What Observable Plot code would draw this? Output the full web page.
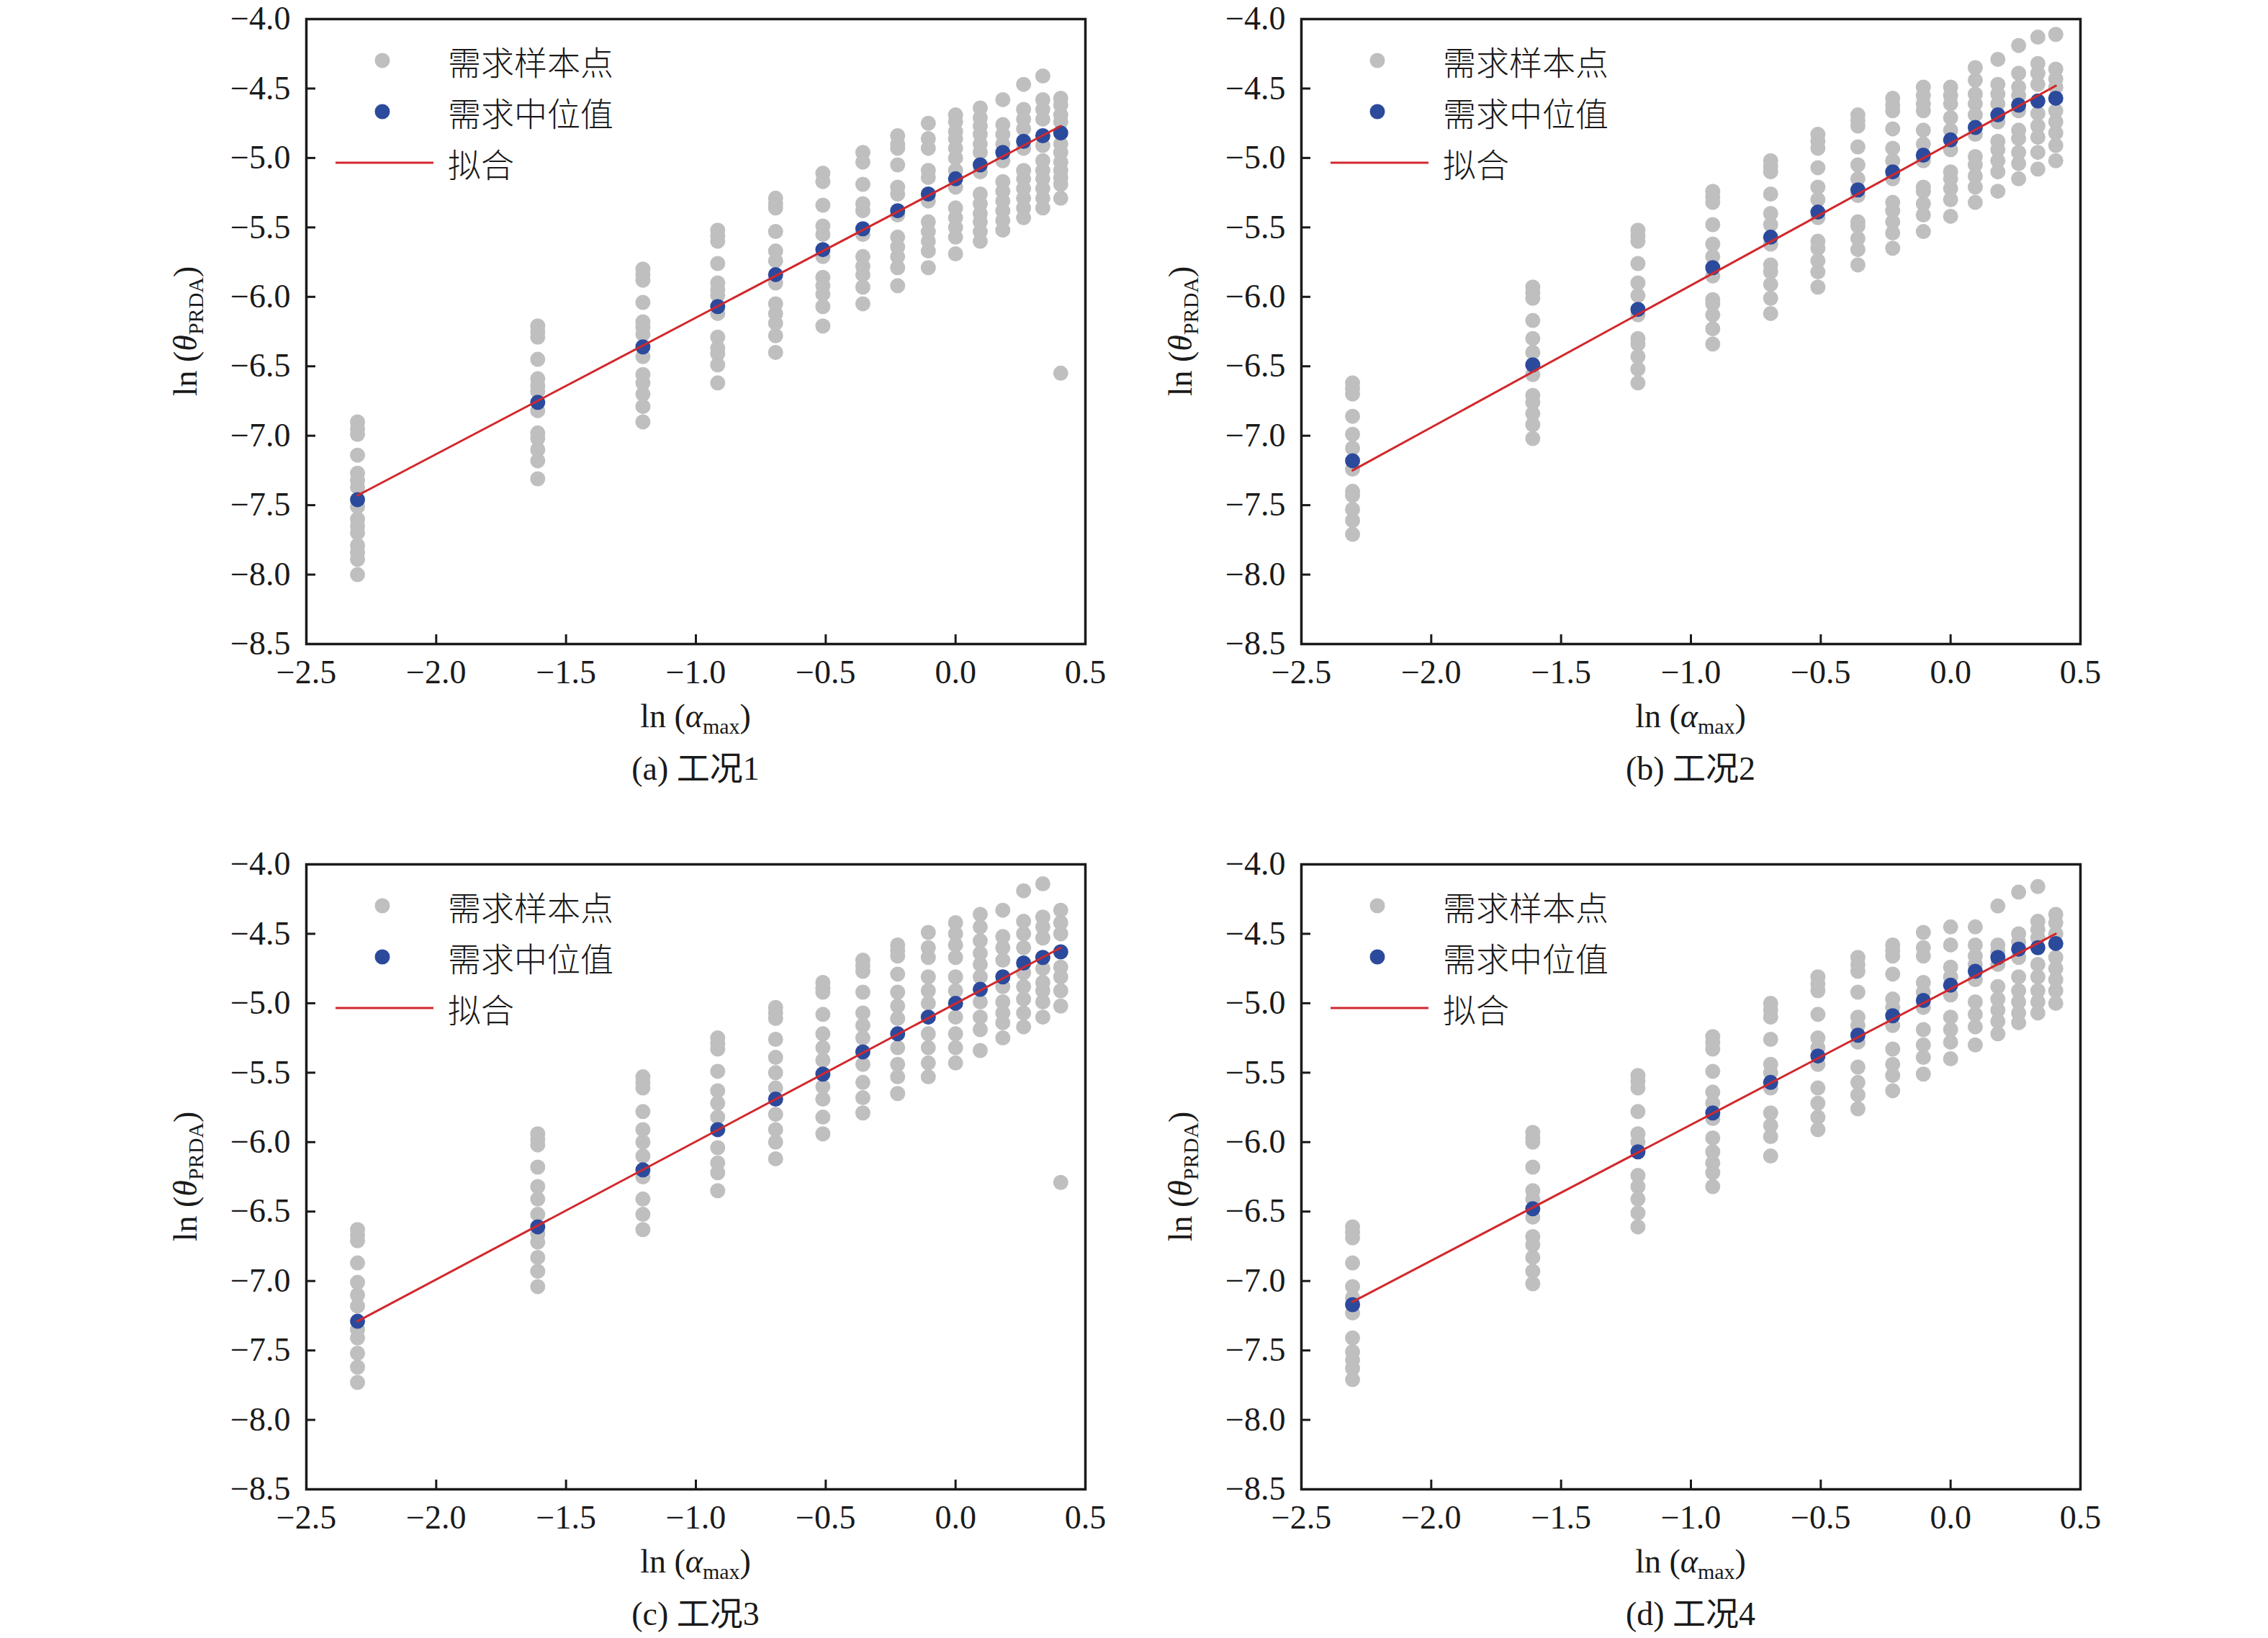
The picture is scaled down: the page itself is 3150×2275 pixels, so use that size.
<!DOCTYPE html>
<html>
<head>
<meta charset="utf-8">
<script src="https://cdn.jsdelivr.net/npm/d3@7"></script>
<script src="https://cdn.jsdelivr.net/npm/@observablehq/plot@0.6"></script>
<style>
  body { margin: 0; background: #fff; overflow: hidden; }
  #chart { position: relative; width: 3150px; height: 2275px; background: #fff; }
  .panel { position: absolute; }
</style>
</head>
<body>
<div id="chart"></div>
<script>
// ln(alpha_max) for alpha_max = 0.1 ... 1.5
const xLn = [-2.303, -1.609, -1.204, -0.916, -0.693, -0.511, -0.357, -0.223, -0.105, 0, 0.095, 0.182, 0.262, 0.336, 0.405]
const xTicks = [-2.5, -2.0, -1.5, -1.0, -0.5, 0.0, 0.5]
const yTicks = [-8.5, -8.0, -7.5, -7.0, -6.5, -6.0, -5.5, -5.0, -4.5, -4.0]
const fitX = [-2.303, 0.405]
const captions = ['(a) 工况1', '(b) 工况2', '(c) 工况3', '(d) 工况4']
const legendLabels = ['需求样本点', '需求中位值', '拟合']

// 需求样本点, one list per column of xLn
const samplesA = [
  [-6.90, -6.95, -6.99, -7.14, -7.27, -7.32, -7.37, -7.51, -7.60, -7.65, -7.70, -7.79, -7.84, -7.89, -8.00],
  [-6.21, -6.25, -6.29, -6.45, -6.59, -6.64, -6.68, -6.82, -6.98, -7.02, -7.10, -7.18, -7.31],
  [-5.80, -5.84, -5.88, -6.04, -6.18, -6.22, -6.27, -6.43, -6.56, -6.62, -6.70, -6.79, -6.90],
  [-5.52, -5.56, -5.60, -5.76, -5.90, -5.95, -5.99, -6.12, -6.29, -6.37, -6.41, -6.49, -6.62],
  [-5.29, -5.33, -5.36, -5.53, -5.67, -5.74, -5.90, -6.05, -6.12, -6.19, -6.28, -6.40],
  [-5.11, -5.17, -5.34, -5.49, -5.55, -5.71, -5.86, -5.92, -5.98, -6.07, -6.21],
  [-4.96, -5.03, -5.19, -5.33, -5.38, -5.55, -5.71, -5.78, -5.84, -5.93, -6.05],
  [-4.84, -4.90, -4.93, -5.05, -5.21, -5.26, -5.41, -5.57, -5.64, -5.71, -5.79, -5.92],
  [-4.75, -4.86, -4.93, -5.09, -5.14, -5.31, -5.46, -5.53, -5.60, -5.67, -5.79],
  [-4.69, -4.74, -4.81, -4.86, -4.93, -5.00, -5.09, -5.21, -5.36, -5.43, -5.50, -5.57, -5.69],
  [-4.64, -4.71, -4.77, -4.83, -4.90, -4.96, -5.10, -5.26, -5.33, -5.40, -5.46, -5.53, -5.60],
  [-4.58, -4.76, -4.83, -4.90, -5.02, -5.17, -5.24, -5.31, -5.38, -5.45, -5.52],
  [-4.47, -4.65, -4.72, -4.79, -4.93, -5.09, -5.15, -5.22, -5.29, -5.36, -5.43],
  [-4.41, -4.58, -4.65, -4.72, -4.91, -5.02, -5.09, -5.15, -5.22, -5.29, -5.36],
  [-4.57, -4.62, -4.69, -4.74, -4.90, -4.96, -5.03, -5.09, -5.14, -5.19, -5.29, -6.55]
]
const samplesB = [
  [-6.62, -6.66, -6.70, -6.86, -6.99, -7.09, -7.24, -7.40, -7.43, -7.53, -7.61, -7.71],
  [-5.93, -5.97, -6.01, -6.17, -6.30, -6.40, -6.56, -6.71, -6.76, -6.84, -6.92, -7.02],
  [-5.52, -5.56, -5.60, -5.76, -5.90, -5.99, -6.13, -6.30, -6.34, -6.43, -6.52, -6.62],
  [-5.24, -5.28, -5.32, -5.48, -5.62, -5.71, -5.85, -6.02, -6.05, -6.13, -6.23, -6.34],
  [-5.02, -5.06, -5.10, -5.26, -5.40, -5.48, -5.62, -5.77, -5.82, -5.91, -6.01, -6.12],
  [-4.83, -4.88, -4.93, -5.07, -5.21, -5.30, -5.43, -5.60, -5.65, -5.74, -5.82, -5.93],
  [-4.69, -4.73, -4.77, -4.92, -5.05, -5.15, -5.27, -5.46, -5.49, -5.58, -5.66, -5.77],
  [-4.57, -4.62, -4.66, -4.79, -4.93, -5.02, -5.15, -5.32, -5.38, -5.46, -5.54, -5.65],
  [-4.49, -4.55, -4.61, -4.66, -4.80, -4.90, -5.02, -5.21, -5.24, -5.33, -5.41, -5.53],
  [-4.49, -4.55, -4.61, -4.71, -4.80, -4.94, -5.10, -5.15, -5.22, -5.30, -5.42],
  [-4.35, -4.44, -4.54, -4.61, -4.69, -4.83, -4.99, -5.05, -5.13, -5.21, -5.32],
  [-4.29, -4.47, -4.54, -4.61, -4.74, -4.88, -4.94, -5.02, -5.10, -5.24],
  [-4.19, -4.39, -4.49, -4.55, -4.66, -4.80, -4.86, -4.96, -5.04, -5.15],
  [-4.13, -4.32, -4.39, -4.47, -4.68, -4.77, -4.85, -4.96, -5.08],
  [-4.11, -4.36, -4.43, -4.49, -4.66, -4.74, -4.82, -4.91, -5.02]
]
const samplesC = [
  [-6.63, -6.67, -6.71, -6.87, -7.01, -7.10, -7.18, -7.35, -7.41, -7.52, -7.62, -7.73],
  [-5.94, -5.98, -6.02, -6.18, -6.32, -6.41, -6.52, -6.66, -6.72, -6.83, -6.93, -7.04],
  [-5.53, -5.57, -5.61, -5.78, -5.91, -6.00, -6.10, -6.25, -6.41, -6.52, -6.63],
  [-5.25, -5.29, -5.33, -5.49, -5.63, -5.72, -5.82, -6.04, -6.15, -6.22, -6.35],
  [-5.03, -5.07, -5.11, -5.26, -5.39, -5.50, -5.61, -5.80, -5.91, -6.00, -6.12],
  [-4.85, -4.89, -4.92, -5.08, -5.22, -5.32, -5.41, -5.60, -5.69, -5.82, -5.94],
  [-4.69, -4.73, -4.77, -4.92, -5.07, -5.16, -5.25, -5.44, -5.57, -5.68, -5.79],
  [-4.58, -4.62, -4.66, -4.79, -4.92, -5.02, -5.11, -5.32, -5.44, -5.53, -5.65],
  [-4.49, -4.60, -4.67, -4.81, -4.91, -5.00, -5.22, -5.32, -5.43, -5.53],
  [-4.42, -4.50, -4.58, -4.67, -4.81, -4.91, -5.10, -5.22, -5.32, -5.43],
  [-4.36, -4.45, -4.55, -4.64, -4.72, -4.81, -4.99, -5.10, -5.19, -5.34],
  [-4.33, -4.52, -4.60, -4.69, -4.88, -4.99, -5.07, -5.14, -5.25],
  [-4.19, -4.41, -4.50, -4.60, -4.78, -4.88, -4.97, -5.07, -5.17],
  [-4.14, -4.38, -4.45, -4.53, -4.75, -4.85, -4.91, -4.99, -5.10],
  [-4.33, -4.42, -4.50, -4.74, -4.81, -4.91, -5.02, -6.29]
]
const samplesD = [
  [-6.61, -6.65, -6.69, -6.87, -7.04, -7.12, -7.23, -7.41, -7.51, -7.57, -7.63, -7.71],
  [-5.93, -5.97, -6.00, -6.18, -6.35, -6.41, -6.54, -6.68, -6.74, -6.83, -6.93, -7.02],
  [-5.52, -5.56, -5.61, -5.78, -5.94, -6.00, -6.24, -6.32, -6.41, -6.51, -6.61],
  [-5.24, -5.28, -5.33, -5.49, -5.64, -5.72, -5.83, -5.97, -6.07, -6.15, -6.22, -6.32],
  [-5.00, -5.05, -5.10, -5.26, -5.44, -5.50, -5.61, -5.79, -5.88, -5.96, -6.10],
  [-4.81, -4.86, -4.91, -5.08, -5.25, -5.32, -5.44, -5.61, -5.72, -5.82, -5.91],
  [-4.67, -4.72, -4.77, -4.92, -5.10, -5.16, -5.28, -5.46, -5.57, -5.66, -5.76],
  [-4.58, -4.62, -4.66, -4.79, -4.97, -5.03, -5.16, -5.33, -5.44, -5.52, -5.63],
  [-4.49, -4.60, -4.66, -4.85, -4.92, -5.03, -5.19, -5.30, -5.39, -5.51],
  [-4.45, -4.58, -4.74, -4.81, -4.94, -5.10, -5.19, -5.28, -5.40],
  [-4.45, -4.58, -4.66, -4.72, -4.83, -4.99, -5.08, -5.17, -5.30],
  [-4.30, -4.58, -4.63, -4.72, -4.88, -4.97, -5.05, -5.13, -5.22],
  [-4.20, -4.50, -4.56, -4.67, -4.81, -4.91, -4.99, -5.07, -5.14],
  [-4.16, -4.41, -4.47, -4.53, -4.72, -4.81, -4.91, -4.99, -5.07],
  [-4.36, -4.42, -4.50, -4.67, -4.75, -4.83, -4.91, -5.00]
]

// 需求中位值
const medA = [-7.46, -6.76, -6.36, -6.07, -5.84, -5.66, -5.51, -5.38, -5.26, -5.15, -5.05, -4.96, -4.88, -4.84, -4.82]
const medB = [-7.18, -6.49, -6.09, -5.79, -5.57, -5.39, -5.23, -5.10, -4.98, -4.87, -4.78, -4.69, -4.62, -4.59, -4.57]
const medC = [-7.29, -6.61, -6.20, -5.91, -5.69, -5.51, -5.35, -5.22, -5.10, -5.00, -4.90, -4.81, -4.71, -4.67, -4.63]
const medD = [-7.17, -6.48, -6.07, -5.79, -5.57, -5.38, -5.23, -5.09, -4.98, -4.87, -4.77, -4.67, -4.61, -4.60, -4.57]

// 拟合 line, y at the two ends of fitX
const fitA = [-7.43, -4.77]
const fitB = [-7.25, -4.48]
const fitC = [-7.29, -4.60]
const fitD = [-7.15, -4.50]

const panels = [
  {samples: samplesA, med: medA, fit: fitA, left: 0, top: 0},
  {samples: samplesB, med: medB, fit: fitB, left: 1382, top: 0},
  {samples: samplesC, med: medC, fit: fitC, left: 0, top: 1174},
  {samples: samplesD, med: medD, fit: fitD, left: 1382, top: 1174}
]

const W = 1575, H = 1100
const mL = 425, mR = 68, mT = 26, mB = 206
const pw = W - mL - mR
const ph = H - mT - mB
const ink = '#1a1a1a'
const gray = '#bfbfbf'
const blue = '#2c4a9c'
const red = '#d2282c'
const serif = "'Liberation Serif', 'Times New Roman', serif"
const cjk = "'Liberation Serif', 'Noto Sans CJK SC', serif"

function draw(p, i) {
  const pts = p.samples.flatMap((col, j) => col.map(v => ({x: xLn[j], y: v})))
  const mids = p.med.map((v, j) => ({x: xLn[j], y: v}))
  const line = fitX.map((x, j) => ({x: x, y: p.fit[j]}))
  const fmt = d3.format('.1f')

  let chart = Plot.plot({
    width: W,
    height: H,
    marginLeft: mL,
    marginRight: mR,
    marginTop: mT,
    marginBottom: mB,
    style: {fontFamily: serif, fontSize: '46px', color: ink, background: 'none', overflow: 'visible'},
    x: {domain: [-2.5, 0.5]},
    y: {domain: [-8.5, -4.0]},
    marks: [
      Plot.axisX({ticks: xTicks, tickSize: 0, tickPadding: 22, tickFormat: fmt, label: null}),
      Plot.axisY({ticks: yTicks, tickSize: 0, tickPadding: 22, tickFormat: fmt, label: null}),
      // inward ticks
      Plot.tickX(xTicks, {x: d => d, insetTop: ph - 13, stroke: ink, strokeWidth: 3}),
      Plot.tickY(yTicks, {y: d => d, insetRight: pw - 13, stroke: ink, strokeWidth: 3}),
      Plot.dot(pts, {x: 'x', y: 'y', r: 10.5, fill: gray}),
      Plot.dot(mids, {x: 'x', y: 'y', r: 10.5, fill: blue}),
      Plot.line(line, {x: 'x', y: 'y', stroke: red, strokeWidth: 3}),
      Plot.frame({stroke: ink, strokeWidth: 3.5})
    ]
  })

  const svg = d3.select(chart)

  // x title: ln (α_max)
  const xt = svg.append('text')
      .attr('x', mL + pw / 2).attr('y', 1010)
      .attr('text-anchor', 'middle')
      .attr('font-family', serif).attr('font-size', 46).attr('fill', ink)
  xt.append('tspan').text('ln (')
  xt.append('tspan').attr('font-style', 'italic').text('α')
  xt.append('tspan').attr('font-size', 30).attr('dy', 9).text('max')
  xt.append('tspan').attr('dy', -9).text(')')

  // y title: ln (θ_PRDA)
  const yt = svg.append('text')
      .attr('transform', `translate(273,${mT + ph / 2}) rotate(-90)`)
      .attr('text-anchor', 'middle')
      .attr('font-family', serif).attr('font-size', 46).attr('fill', ink)
  yt.append('tspan').text('ln (')
  yt.append('tspan').attr('font-style', 'italic').text('θ')
  yt.append('tspan').attr('font-size', 30).attr('dy', 9).text('PRDA')
  yt.append('tspan').attr('dy', -9).text(')')

  // caption
  svg.append('text')
      .attr('x', mL + pw / 2).attr('y', 1083)
      .attr('text-anchor', 'middle')
      .attr('font-family', cjk).attr('font-size', 46).attr('fill', ink)
      .text(captions[i])

  // legend
  const lg = svg.append('g').attr('transform', `translate(${mL},${mT})`)
  lg.append('circle').attr('cx', 106).attr('cy', 58).attr('r', 10.5).attr('fill', gray)
  lg.append('circle').attr('cx', 106).attr('cy', 129).attr('r', 10.5).attr('fill', blue)
  lg.append('line').attr('x1', 41).attr('x2', 177).attr('y1', 200).attr('y2', 200)
      .attr('stroke', red).attr('stroke-width', 3)
  legendLabels.forEach((t, k) => {
    lg.append('text')
        .attr('x', 197).attr('y', 58 + k * 71)
        .attr('text-anchor', 'start')
        .attr('dominant-baseline', 'central')
        .attr('font-family', "'Noto Sans CJK SC', sans-serif")
        .attr('font-weight', 300)
        .attr('font-size', 46).attr('fill', ink)
        .text(t)
  })

  d3.select('#chart').append('div')
      .attr('class', 'panel')
      .style('left', p.left + 'px')
      .style('top', p.top + 'px')
      .append(() => chart)
}

panels.forEach(draw)
</script>
</body>
</html>
